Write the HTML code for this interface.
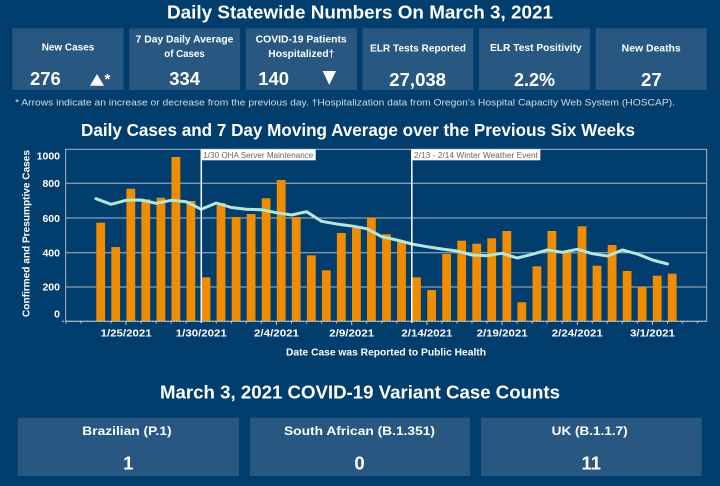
<!DOCTYPE html>
<html><head><meta charset="utf-8"><style>html,body{margin:0;padding:0;background:#023e6d;}svg{display:block}</style></head>
<body>
<svg width="720" height="486" viewBox="0 0 720 486" xmlns="http://www.w3.org/2000/svg" font-family="'Liberation Sans', sans-serif">
<rect width="720" height="486" fill="#023e6d"/>
<text x="167" y="18.5" font-size="18.5" font-weight="bold" fill="#fff" textLength="386" lengthAdjust="spacingAndGlyphs">Daily Statewide Numbers On March 3, 2021</text>
<g fill="#285882">
<rect x="12.3" y="28.3" width="111.2" height="61.7"/>
<rect x="129.2" y="28.3" width="110.9" height="61.7"/>
<rect x="245.9" y="28.3" width="111" height="61.7"/>
<rect x="362.5" y="28.3" width="110.9" height="61.7"/>
<rect x="479" y="28.3" width="111" height="61.7"/>
<rect x="595.7" y="28.3" width="111" height="61.7"/>
</g>
<g fill="#fff" font-weight="bold" font-size="10" lengthAdjust="spacingAndGlyphs">
<text x="41.7" y="50.5" textLength="52.6" lengthAdjust="spacingAndGlyphs">New Cases</text>
<text x="135.7" y="42.5" textLength="97.7" lengthAdjust="spacingAndGlyphs">7 Day Daily Average</text>
<text x="164.3" y="57" textLength="40.3" lengthAdjust="spacingAndGlyphs">of Cases</text>
<text x="255.7" y="42.5" textLength="91" lengthAdjust="spacingAndGlyphs">COVID-19 Patients</text>
<text x="268.3" y="57" textLength="66" lengthAdjust="spacingAndGlyphs">Hospitalized†</text>
<text x="370" y="51.5" textLength="96" lengthAdjust="spacingAndGlyphs">ELR Tests Reported</text>
<text x="490" y="51" textLength="91.7" lengthAdjust="spacingAndGlyphs">ELR Test Positivity</text>
<text x="621.7" y="51.5" textLength="59" lengthAdjust="spacingAndGlyphs">New Deaths</text>
</g>
<g fill="#fff" font-weight="bold" font-size="18.5">
<text x="30" y="85" textLength="30.7" lengthAdjust="spacingAndGlyphs">276</text>
<text x="169.3" y="85" textLength="30.7" lengthAdjust="spacingAndGlyphs">334</text>
<text x="258.3" y="85" textLength="30.7" lengthAdjust="spacingAndGlyphs">140</text>
<text x="389.3" y="86" textLength="56.7" lengthAdjust="spacingAndGlyphs">27,038</text>
<text x="514" y="86" textLength="41" lengthAdjust="spacingAndGlyphs">2.2%</text>
<text x="641" y="86" textLength="20.7" lengthAdjust="spacingAndGlyphs">27</text>
<text x="104.5" y="84" font-size="15">*</text>
</g>
<polygon points="90,85.7 97,74 104,85.7" fill="#fff"/>
<polygon points="322.7,71 336,71 329.3,85" fill="#fff"/>
<text x="15" y="105.5" font-size="9.5" fill="#d3dce6" textLength="660" lengthAdjust="spacingAndGlyphs">* Arrows indicate an increase or decrease from the previous day. †Hospitalization data from Oregon’s Hospital Capacity Web System (HOSCAP).</text>
<text x="81" y="136" font-size="17.5" font-weight="bold" fill="#fff" textLength="554" lengthAdjust="spacingAndGlyphs">Daily Cases and 7 Day Moving Average over the Previous Six Weeks</text>

<!-- plot -->
<g stroke="#a9b7c7" stroke-width="1" fill="none">
<line x1="65.7" y1="183.3" x2="706.7" y2="183.3"/>
<line x1="65.7" y1="218" x2="706.7" y2="218"/>
<line x1="65.7" y1="252.7" x2="706.7" y2="252.7"/>
<line x1="65.7" y1="287" x2="706.7" y2="287"/>
<rect x="65.7" y="149.3" width="641" height="172"/>
</g>
<g fill="#f08c00">
<rect x="96.3" y="222.7" width="8.8" height="98.6"/>
<rect x="111.3" y="247" width="8.8" height="74.3"/>
<rect x="126.4" y="188.7" width="8.8" height="132.6"/>
<rect x="141.4" y="199.3" width="8.8" height="122"/>
<rect x="156.5" y="197.7" width="8.8" height="123.6"/>
<rect x="171.5" y="157" width="8.8" height="164.3"/>
<rect x="186.5" y="201" width="8.8" height="120.3"/>
<rect x="201.6" y="277.3" width="8.8" height="44"/>
<rect x="216.6" y="203" width="8.8" height="118.3"/>
<rect x="231.7" y="217" width="8.8" height="104.3"/>
<rect x="246.7" y="214" width="8.8" height="107.3"/>
<rect x="261.7" y="198.3" width="8.8" height="123"/>
<rect x="276.8" y="180" width="8.8" height="141.3"/>
<rect x="291.8" y="217" width="8.8" height="104.3"/>
<rect x="306.9" y="255.3" width="8.8" height="66"/>
<rect x="321.9" y="270.3" width="8.8" height="51"/>
<rect x="336.9" y="233" width="8.8" height="88.3"/>
<rect x="352" y="228" width="8.8" height="93.3"/>
<rect x="367" y="217.3" width="8.8" height="104"/>
<rect x="382.1" y="234.3" width="8.8" height="87"/>
<rect x="397.1" y="241.7" width="8.8" height="79.6"/>
<rect x="412.1" y="277.3" width="8.8" height="44"/>
<rect x="427.2" y="290" width="8.8" height="31.3"/>
<rect x="442.2" y="254" width="8.8" height="67.3"/>
<rect x="457.3" y="240.7" width="8.8" height="80.6"/>
<rect x="472.3" y="243.7" width="8.8" height="77.6"/>
<rect x="487.3" y="238.3" width="8.8" height="83"/>
<rect x="502.4" y="231" width="8.8" height="90.3"/>
<rect x="517.4" y="302.3" width="8.8" height="19"/>
<rect x="532.5" y="266.3" width="8.8" height="55"/>
<rect x="547.5" y="231" width="8.8" height="90.3"/>
<rect x="562.5" y="252.7" width="8.8" height="68.6"/>
<rect x="577.6" y="226.3" width="8.8" height="95"/>
<rect x="592.6" y="265.7" width="8.8" height="55.6"/>
<rect x="607.7" y="245" width="8.8" height="76.3"/>
<rect x="622.7" y="271" width="8.8" height="50.3"/>
<rect x="637.7" y="287" width="8.8" height="34.3"/>
<rect x="652.8" y="275.7" width="8.8" height="45.6"/>
<rect x="667.8" y="273.7" width="8.8" height="47.6"/>
</g>
<polyline fill="none" stroke="#b5e6dc" stroke-width="3" stroke-linejoin="round" stroke-linecap="round" points="96,198.7 111.04,204.3 126.08,200.3 141.12,200 156.16,203.3 171.2,200.3 186.24,201.7 201.28,209.3 216.32,203 231.36,207.5 246.4,209.3 261.44,209.7 276.48,212.7 291.52,215 306.56,211.7 321.6,221.3 336.64,224 351.68,226 366.72,228.7 381.76,236.7 396.8,240 411.84,244 426.88,246.7 441.92,249 456.96,251 472,255 487.04,255.7 502.08,253.3 517.12,258 532.16,254.3 547.2,250 562.24,252.3 577.28,249.3 592.32,253.7 607.36,256 622.4,250 637.44,254 652.48,260 667.52,264"/>
<line x1="201.3" y1="149.3" x2="201.3" y2="323" stroke="#fff" stroke-width="1.5"/>
<line x1="411.8" y1="149.3" x2="411.8" y2="323" stroke="#fff" stroke-width="1.5"/>
<rect x="201.3" y="149.3" width="114.4" height="11" fill="#fff"/>
<text x="203.3" y="158" font-size="8" fill="#666" textLength="110" lengthAdjust="spacingAndGlyphs">1/30 OHA Server Maintenance</text>
<rect x="411.8" y="149.3" width="128.5" height="11" fill="#fff"/>
<text x="414" y="158" font-size="8" fill="#666" textLength="124" lengthAdjust="spacingAndGlyphs">2/13 - 2/14 Winter Weather Event</text>
<line x1="62" y1="321.3" x2="706.7" y2="321.3" stroke="#c0ccd8" stroke-width="1" stroke-dasharray="2 1"/>
<g stroke="#c0ccd8" stroke-width="1">
<line x1="65.9" y1="321.3" x2="65.9" y2="323.5"/><line x1="81" y1="321.3" x2="81" y2="323.5"/><line x1="111" y1="321.3" x2="111" y2="323.5"/><line x1="141.1" y1="321.3" x2="141.1" y2="323.5"/><line x1="156.2" y1="321.3" x2="156.2" y2="323.5"/><line x1="171.2" y1="321.3" x2="171.2" y2="323.5"/><line x1="186.2" y1="321.3" x2="186.2" y2="323.5"/><line x1="216.3" y1="321.3" x2="216.3" y2="323.5"/><line x1="231.4" y1="321.3" x2="231.4" y2="323.5"/><line x1="246.4" y1="321.3" x2="246.4" y2="323.5"/><line x1="261.4" y1="321.3" x2="261.4" y2="323.5"/><line x1="291.5" y1="321.3" x2="291.5" y2="323.5"/><line x1="306.6" y1="321.3" x2="306.6" y2="323.5"/><line x1="321.6" y1="321.3" x2="321.6" y2="323.5"/><line x1="336.6" y1="321.3" x2="336.6" y2="323.5"/><line x1="366.7" y1="321.3" x2="366.7" y2="323.5"/><line x1="381.8" y1="321.3" x2="381.8" y2="323.5"/><line x1="396.8" y1="321.3" x2="396.8" y2="323.5"/><line x1="441.9" y1="321.3" x2="441.9" y2="323.5"/><line x1="457" y1="321.3" x2="457" y2="323.5"/><line x1="472" y1="321.3" x2="472" y2="323.5"/><line x1="487" y1="321.3" x2="487" y2="323.5"/><line x1="517.1" y1="321.3" x2="517.1" y2="323.5"/><line x1="532.2" y1="321.3" x2="532.2" y2="323.5"/><line x1="547.2" y1="321.3" x2="547.2" y2="323.5"/><line x1="562.2" y1="321.3" x2="562.2" y2="323.5"/><line x1="592.3" y1="321.3" x2="592.3" y2="323.5"/><line x1="607.4" y1="321.3" x2="607.4" y2="323.5"/><line x1="622.4" y1="321.3" x2="622.4" y2="323.5"/><line x1="637.4" y1="321.3" x2="637.4" y2="323.5"/><line x1="667.5" y1="321.3" x2="667.5" y2="323.5"/><line x1="682.6" y1="321.3" x2="682.6" y2="323.5"/><line x1="697.6" y1="321.3" x2="697.6" y2="323.5"/>
<line x1="126.1" y1="321.3" x2="126.1" y2="325"/><line x1="276.5" y1="321.3" x2="276.5" y2="325"/><line x1="351.7" y1="321.3" x2="351.7" y2="325"/><line x1="426.9" y1="321.3" x2="426.9" y2="325"/><line x1="502.1" y1="321.3" x2="502.1" y2="325"/><line x1="577.3" y1="321.3" x2="577.3" y2="325"/><line x1="652.5" y1="321.3" x2="652.5" y2="325"/>
</g>
<g fill="#fff" font-weight="bold" font-size="10.5" text-anchor="end">
<text x="60" y="159.3">1000</text>
<text x="60" y="186.8">800</text>
<text x="60" y="222">600</text>
<text x="60" y="256.4">400</text>
<text x="60" y="290.4">200</text>
<text x="60" y="317.7">0</text>
</g>
<g fill="#fff" font-weight="bold" font-size="10">
<text x="100.6" y="336.7" textLength="51" lengthAdjust="spacingAndGlyphs">1/25/2021</text>
<text x="175.8" y="336.7" textLength="51" lengthAdjust="spacingAndGlyphs">1/30/2021</text>
<text x="254" y="336.7" textLength="45" lengthAdjust="spacingAndGlyphs">2/4/2021</text>
<text x="329.2" y="336.7" textLength="45" lengthAdjust="spacingAndGlyphs">2/9/2021</text>
<text x="401.4" y="336.7" textLength="51" lengthAdjust="spacingAndGlyphs">2/14/2021</text>
<text x="476.6" y="336.7" textLength="51" lengthAdjust="spacingAndGlyphs">2/19/2021</text>
<text x="551.8" y="336.7" textLength="51" lengthAdjust="spacingAndGlyphs">2/24/2021</text>
<text x="630" y="336.7" textLength="45" lengthAdjust="spacingAndGlyphs">3/1/2021</text>
<text x="286" y="355.5" font-size="10.5" textLength="200" lengthAdjust="spacingAndGlyphs">Date Case was Reported to Public Health</text>
<text transform="translate(29.3,317) rotate(-90)" x="0" y="0" font-size="10" textLength="167" lengthAdjust="spacingAndGlyphs">Confirmed and Presumptive Cases</text>
</g>

<!-- variants -->
<text x="160" y="398.3" font-size="18.5" font-weight="bold" fill="#fff" textLength="400" lengthAdjust="spacingAndGlyphs">March 3, 2021 COVID-19 Variant Case Counts</text>
<g fill="#285882">
<rect x="17.7" y="417.7" width="221.3" height="58.3"/>
<rect x="250" y="417.7" width="220" height="58.3"/>
<rect x="481" y="417.7" width="220.7" height="58.3"/>
</g>
<g fill="#fff" font-weight="bold" font-size="12">
<text x="82.3" y="435" textLength="89.3" lengthAdjust="spacingAndGlyphs">Brazilian (P.1)</text>
<text x="284" y="435" textLength="151" lengthAdjust="spacingAndGlyphs">South African (B.1.351)</text>
<text x="551.7" y="435" textLength="76" lengthAdjust="spacingAndGlyphs">UK (B.1.1.7)</text>
</g>
<g fill="#fff" font-weight="bold" font-size="18.5" text-anchor="middle">
<text x="128.3" y="469.3">1</text>
<text x="359.5" y="469.3">0</text>
<text x="591.3" y="469.3">11</text>
</g>
</svg>
</body></html>
